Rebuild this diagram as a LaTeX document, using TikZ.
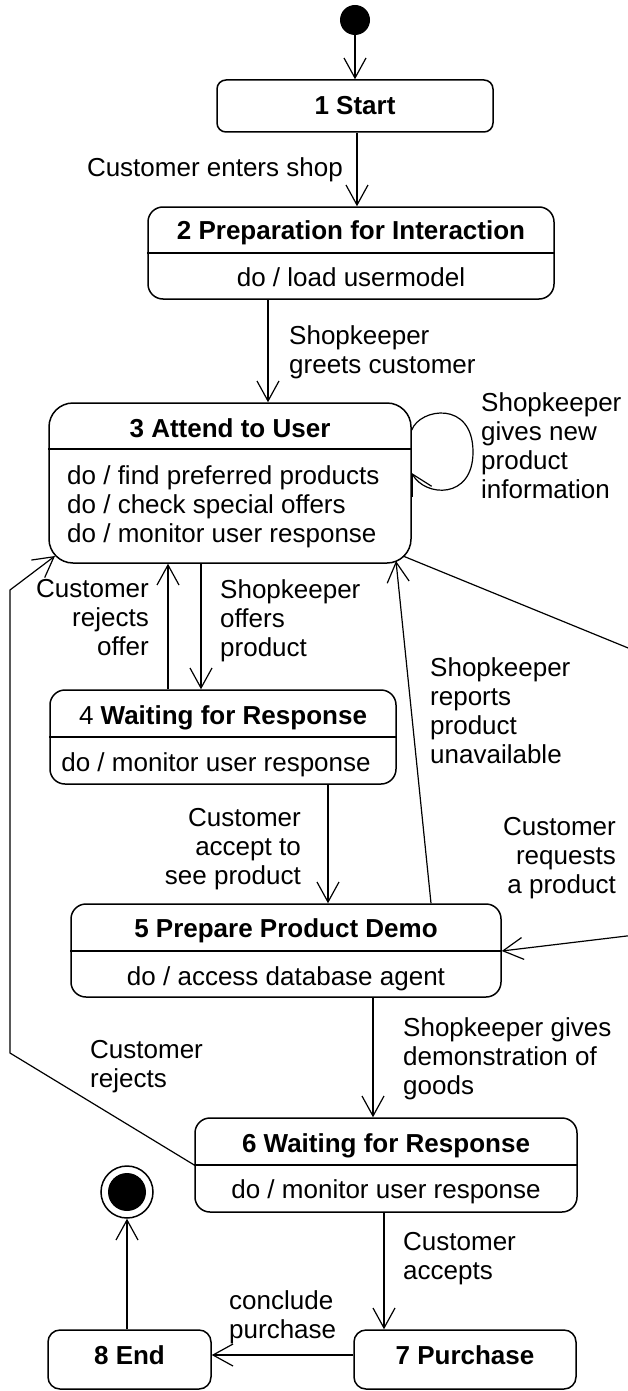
\documentclass[tikz,border=0pt]{standalone}
\usepackage{fontspec}
\setmainfont{Liberation Sans}
\usetikzlibrary{arrows.meta}
\begin{document}
\begin{tikzpicture}[x=1pt,y=-1pt,
  box/.style={draw, line width=1.5pt, inner sep=0pt, rounded corners=#1},
  box/.default=15pt,
  lbl/.style={inner sep=0pt, font=\fontsize{26}{29}\selectfont},
  ttl/.style={inner sep=0pt, font=\fontsize{26}{29}\selectfont\bfseries},
  conn/.style={line width=1.2pt},
  arr/.style={conn, -{Straight Barb[length=20pt,width=22pt,line width=1.2pt]}},
  divl/.style={line width=1.5pt}]
\useasboundingbox (0,0) rectangle (628,1391);
\clip (0,0) rectangle (628,1391);

% initial and final states
\node[circle, fill=black, inner sep=0pt, minimum size=30pt] (init) at (355,20) {};
\node[circle, draw, line width=1.5pt, inner sep=0pt, minimum size=52pt] (fin) at (127,1192) {};
\node[circle, fill=black, inner sep=0pt, minimum size=38pt] (finc) at (127,1192) {};

% boxes
\node[box=9pt, minimum width=276pt, minimum height=52pt] (b1) at (355,106) {};
\node[ttl] (t1) at (355,106) {1 Start};

\node[box, minimum width=406pt, minimum height=92pt] (b2) at (351,253) {};
\draw[divl] (b2.west |- 0,253) -- (b2.east |- 0,253);
\node[ttl, anchor=base] (t2) at (351,239) {2 Preparation for Interaction};
\node[lbl, anchor=base] (d2) at (351,286) {do / load usermodel};

\node[box=24pt, minimum width=362pt, minimum height=160pt] (b3) at (230,483) {};
\draw[divl] (b3.west |- 0,449) -- (b3.east |- 0,449);
\node[ttl, anchor=base] (t3) at (230,437) {3 Attend to User};
\node[lbl, anchor=north west, align=left] (d3) at (67,465.5)
  {do / find preferred products\\do / check special offers\\do / monitor user response};

\node[box, minimum width=346pt, minimum height=94pt] (b4) at (223,737) {};
\draw[divl] (b4.west |- 0,737) -- (b4.east |- 0,737);
\node[lbl, anchor=base] (t4) at (223,724) {4 \textbf{Waiting for Response}};
\node[lbl, anchor=base] (d4) at (216,771) {do / monitor user response};

\node[box, minimum width=430pt, minimum height=93pt] (b5) at (286,950.5) {};
\draw[divl] (b5.west |- 0,951) -- (b5.east |- 0,951);
\node[ttl, anchor=base] (t5) at (286,937) {5 Prepare Product Demo};
\node[lbl, anchor=base] (d5) at (286,985) {do / access database agent};

\node[box, minimum width=382pt, minimum height=94pt] (b6) at (386,1165) {};
\draw[divl] (b6.west |- 0,1165) -- (b6.east |- 0,1165);
\node[ttl, anchor=base] (t6) at (386,1152) {6 Waiting for Response};
\node[lbl, anchor=base] (d6) at (386,1198) {do / monitor user response};

\node[box=12pt, minimum width=222pt, minimum height=59pt] (b7) at (465,1359.5) {};
\node[ttl, anchor=base] (t7) at (465,1364) {7 Purchase};

\node[box=12pt, minimum width=163pt, minimum height=59pt] (b8) at (129.5,1359.5) {};
\node[ttl, anchor=base] (t8) at (129.5,1364) {8 End};

% connectors
\draw[arr] (init.south) -- (b1.north);
\draw[arr] (b1.south -| 357,0) -- (b2.north -| 357,0);
\draw[arr] (b2.south -| 268,0) -- (b3.north -| 268,0);
\draw[arr] (b3.east |- 0,430) .. controls (420,408) and (473,400) .. (473,452)
   .. controls (473,500) and (425,497) .. (b3.east |- 0,473);
\draw[arr] (b3.south -| 201,0) -- (b4.north -| 201,0);
\draw[arr] (b4.north -| 168,0) -- (b3.south -| 168,0);
\draw[arr] (b4.south -| 328,0) -- (b5.north -| 328,0);
\coordinate (b3br) at (396,561);
\draw[arr] (b5.north -| 431,0) -- (b3br);
\coordinate (b3c) at (403,556);
\coordinate (offa) at (660,661);
\coordinate (offb) at (660,932);
\draw[arr] (b3c) -- (offa) -- (offb) -- (b5.east |- 0,951);
\draw[arr] (b5.south -| 373,0) -- (b6.north -| 373,0);
\coordinate (lb) at (10,1053);
\coordinate (lt) at (10,590);
\coordinate (b3bl) at (55,556);
\draw[arr] (b6.west |- 0,1165) -- (lb) -- (lt) -- (b3bl);
\draw[arr] (b6.south -| 384,0) -- (b7.north -| 384,0);
\draw[arr] (b7.west |- 0,1355) -- (b8.east |- 0,1355);
\draw[arr] (b8.north -| 127,0) -- (fin.south);

% labels
\node[lbl, anchor=base east] (l1) at (343,177) {Customer enters shop};
\node[lbl, anchor=north west, align=left] (l2) at (289,325.5) {Shopkeeper\\greets customer};
\node[lbl, anchor=north west, align=left] (l3) at (481,392.5) {Shopkeeper\\gives new\\product\\information};
\node[lbl, anchor=north east, align=right] (l4) at (149,579.5) {Customer\\rejects\\offer};
\node[lbl, anchor=north west, align=left] (l5) at (220,579.5) {Shopkeeper\\offers\\product};
\node[lbl, anchor=north west, align=left] (l6) at (430,657.5) {Shopkeeper\\reports\\product\\unavailable};
\node[lbl, anchor=north east, align=right] (l7) at (301,808.5) {Customer\\accept to\\see product};
\node[lbl, anchor=north east, align=right] (l8) at (616,817.5) {Customer\\requests\\a product};
\node[lbl, anchor=north west, align=left] (l9) at (403,1017.5) {Shopkeeper gives\\demonstration of\\goods};
\node[lbl, anchor=north west, align=left] (l10) at (90,1040.5) {Customer\\rejects};
\node[lbl, anchor=north west, align=left] (l11) at (403,1232.5) {Customer\\accepts};
\node[lbl, anchor=north west, align=left] (l12) at (229,1290.5) {conclude\\purchase};
\end{tikzpicture}
\end{document}
